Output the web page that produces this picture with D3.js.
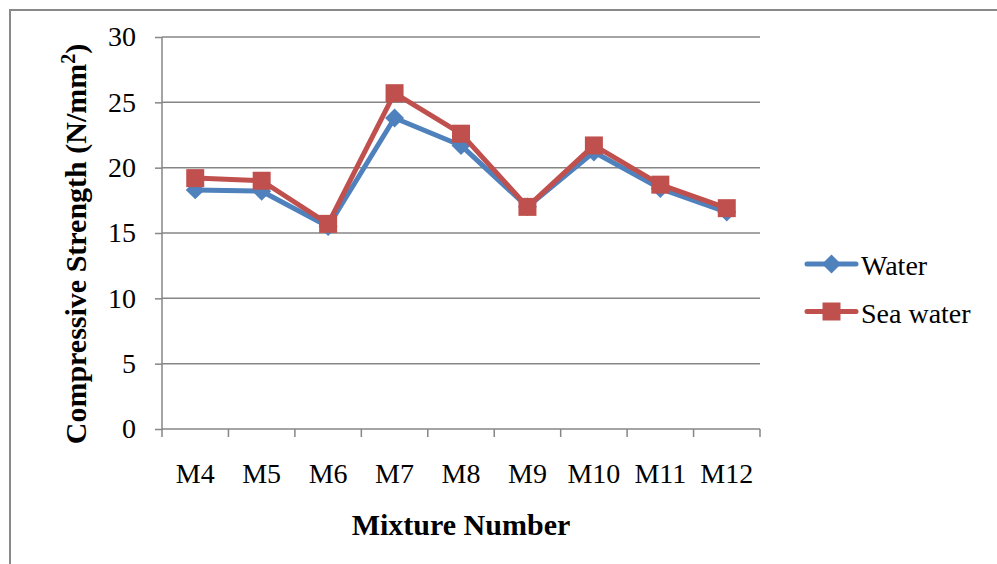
<!DOCTYPE html>
<html><head><meta charset="utf-8">
<script src="https://cdn.jsdelivr.net/npm/d3@7"></script>
<style>body{margin:0;background:#fff}svg{display:block}</style>
</head><body>
<script>
const categories = ["M4","M5","M6","M7","M8","M9","M10","M11","M12"];
const waterValues = [18.3,18.2,15.5,23.8,21.7,17.0,21.2,18.4,16.6];
const seaWaterValues = [19.2,19.0,15.7,25.7,22.6,17.0,21.7,18.7,16.9];
const yTicks = [0,5,10,15,20,25,30];
const seriesNames = ["Water","Sea water"];

const W=997,H=564;
const svg=d3.select("body").append("svg").attr("width",W).attr("height",H);
const font="'Liberation Serif','Times New Roman',serif";
svg.append("rect").attr("x",10).attr("y",10).attr("width",1000).attr("height",600)
  .attr("fill","#fff").attr("stroke","#898989").attr("stroke-width",2);

const L=162,R=760,T=37,B=429;
const x=d3.scaleBand().domain(categories).range([L,R]);
const y=d3.scaleLinear().domain([0,30]).range([B,T]);
const axisColor="#868686";

svg.append("g").selectAll("line").data(yTicks.filter(d=>d>0)).join("line")
  .attr("x1",L).attr("x2",R).attr("y1",d=>y(d)).attr("y2",d=>y(d))
  .attr("stroke",axisColor).attr("stroke-width",1.5);

const ya=svg.append("g").attr("transform",`translate(${L},0)`)
  .call(d3.axisLeft(y).tickValues(yTicks).tickSize(7).tickPadding(19));
ya.select(".domain").attr("stroke",axisColor).attr("stroke-width",1.5).attr("d",`M0,${B}V${T}`);
ya.selectAll(".tick line").attr("stroke",axisColor).attr("stroke-width",1.5);
ya.selectAll("text").attr("font-family",font).attr("font-size",28).attr("fill","#000");

const xa=svg.append("g").attr("transform",`translate(0,${B})`)
  .call(d3.axisBottom(x).tickSize(0).tickPadding(34));
xa.select(".domain").attr("stroke",axisColor).attr("stroke-width",1.5).attr("d",`M${L},0H${R}`);
xa.selectAll(".tick line").remove();
xa.selectAll("text").attr("font-family",font).attr("font-size",28).attr("fill","#000");
const bounds=categories.map(c=>x(c)).concat([R]);
svg.append("g").selectAll("line").data(bounds).join("line")
  .attr("x1",d=>d).attr("x2",d=>d).attr("y1",B).attr("y2",B+8)
  .attr("stroke",axisColor).attr("stroke-width",1.5);

svg.append("text").attr("transform",`translate(86,${(T+B)/2+11}) rotate(-90)`)
  .attr("text-anchor","middle").attr("font-family",font).attr("font-size",30).attr("font-weight","bold")
  .html("Compressive Strength (N/mm<tspan dy='-11' font-size='20'>2</tspan><tspan dy='11'>)</tspan>");
svg.append("text").attr("x",461).attr("y",535).attr("text-anchor","middle")
  .attr("font-family",font).attr("font-size",30).attr("font-weight","bold").text("Mixture Number");

const cx=c=>x(c)+x.bandwidth()/2;
const colors=["#4F81BD","#C0504D"];
const data=[waterValues,seaWaterValues];
const line=d3.line().x((d,i)=>cx(categories[i])).y(d=>y(d));
const diamondType={draw(ctx,size){const r=Math.sqrt(size/2);ctx.moveTo(0,-r);ctx.lineTo(r,0);ctx.lineTo(0,r);ctx.lineTo(-r,0);ctx.closePath();}};
const diamond=d3.symbol().type(diamondType).size(180);
const square=d3.symbol().type(d3.symbolSquare).size(324);
data.forEach((vals,si)=>{
  svg.append("path").datum(vals).attr("d",line).attr("fill","none")
    .attr("stroke",colors[si]).attr("stroke-width",5).attr("stroke-linejoin","round");
  svg.append("g").selectAll("path").data(vals).join("path")
    .attr("transform",(d,i)=>`translate(${cx(categories[i])},${y(d)})`)
    .attr("d",si===0?diamond():square()).attr("fill",colors[si]);
});

seriesNames.forEach((n,i)=>{
  const ly=264+i*47.5;
  const g=svg.append("g");
  g.append("line").attr("x1",807).attr("x2",856).attr("y1",ly).attr("y2",ly)
    .attr("stroke",colors[i]).attr("stroke-width",5).attr("stroke-linecap","round");
  g.append("path").attr("transform",`translate(831.5,${ly})`).attr("d",i===0?diamond():square()).attr("fill",colors[i]);
  g.append("text").attr("x",861).attr("y",ly+11).attr("font-family",font).attr("font-size",28).text(n);
});
</script>
</body></html>
